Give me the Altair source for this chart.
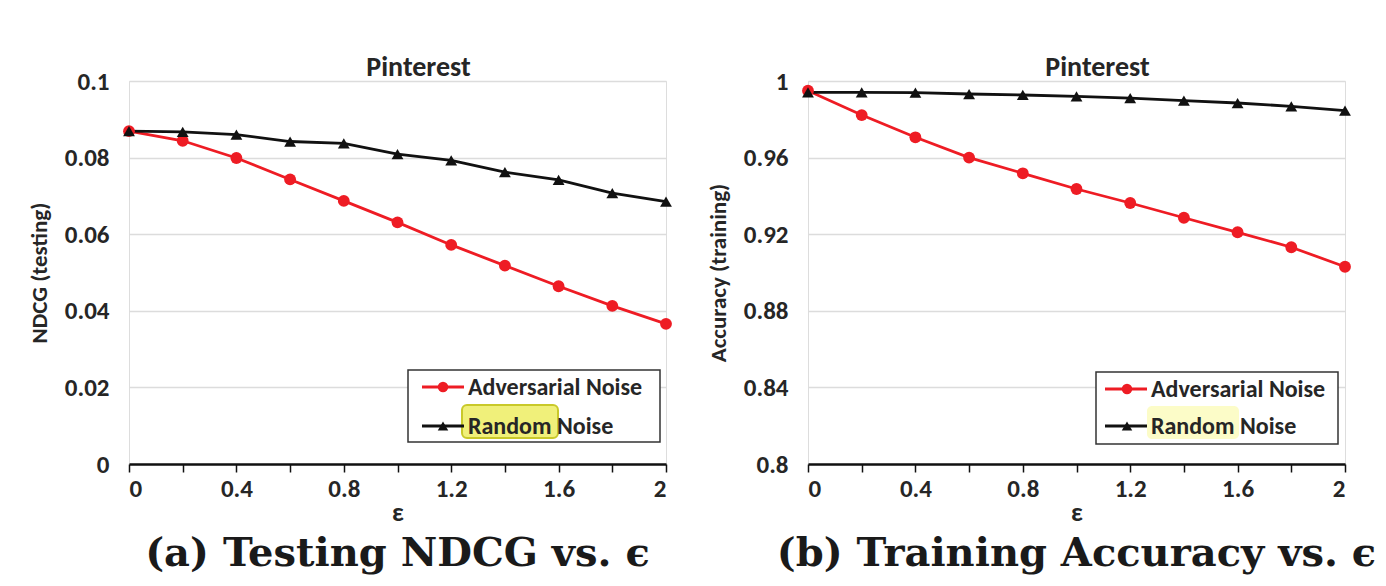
import altair as alt
import pandas as pd

# ---------------- data ----------------
eps = [0.0, 0.2, 0.4, 0.6, 0.8, 1.0, 1.2, 1.4, 1.6, 1.8, 2.0]
ndcg_adv = [0.0869, 0.0844, 0.0799, 0.0743, 0.0687, 0.0631, 0.0572, 0.0518, 0.0464, 0.0413, 0.0366]
ndcg_rand = [0.0869, 0.0867, 0.0860, 0.0842, 0.0837, 0.0809, 0.0793, 0.0762, 0.0742, 0.0707, 0.0685]
acc_adv = [0.9949, 0.9822, 0.9706, 0.9600, 0.9518, 0.9436, 0.9363, 0.9286, 0.9210, 0.9132, 0.9030]
acc_rand = [0.9941, 0.9941, 0.9939, 0.9932, 0.9927, 0.9920, 0.9911, 0.9897, 0.9885, 0.9868, 0.9845]
series = ["Adversarial Noise", "Random Noise"]
series_colors = ["#ee1c24", "#111111"]
series_shapes = ["circle", "triangle-up"]
ndcg_ticks = [0, 0.02, 0.04, 0.06, 0.08, 0.1]
acc_ticks = [0.8, 0.84, 0.88, 0.92, 0.96, 1.0]
panel_title = "Pinterest"
captions = ["(a) Testing NDCG vs. \u03f5", "(b) Training Accuracy vs. \u03f5"]
ytitles = ["NDCG (testing)", "Accuracy (training)"]

SANS = "Carlito, Lato, sans-serif"
SERIF = "DejaVu Serif, Liberation Serif, serif"
TXT = "#262626"
W, H = 537, 383


def one():
    return alt.Data(values=[{"k": 0}])


def panel(adv, rand, ydom, yticks, ytitle, caption, lg, hl_fill, hl_stroke):
    df = pd.DataFrame({
        "eps": eps + eps,
        "value": adv + rand,
        "series": [series[0]] * len(eps) + [series[1]] * len(eps),
    })
    x = alt.X("eps:Q", scale=alt.Scale(domain=[0, 2], nice=False),
              axis=alt.Axis(values=eps, format="~g",
                            labelExpr="round(datum.value*5) % 2 == 0 ? datum.label : ''",
                            title="\u03b5", grid=False, tickSize=8, tickWidth=1.5,
                            tickColor="#111", domainColor="#111", domainWidth=2.5,
                            labelFontSize=25, labelFont=SANS, labelFontWeight="bold",
                            labelColor=TXT, labelPadding=4,
                            titleFontSize=26, titleFont=SANS,
                            titleFontWeight="bold", titleColor=TXT, titlePadding=-2))
    y = alt.Y("value:Q", scale=alt.Scale(domain=ydom, nice=False, zero=False),
              axis=alt.Axis(values=yticks, format="~g", ticks=False, domain=False,
                            gridColor="#dcdcdc", gridWidth=1.5,
                            labelFontSize=25, labelFont=SANS, labelFontWeight="bold",
                            labelColor=TXT, labelPadding=20,
                            minExtent=66, maxExtent=66,
                            title=ytitle, titleFontSize=23,
                            titleFont=SANS, titleFontWeight="bold", titleColor=TXT,
                            titlePadding=12))
    color = alt.Color("series:N", scale=alt.Scale(domain=series, range=series_colors), legend=None)
    shape = alt.Shape("series:N", scale=alt.Scale(domain=series, range=series_shapes), legend=None)
    base = alt.Chart(df)
    lines = base.mark_line(strokeWidth=2.8).encode(x=x, y=y, color=color)
    pts = base.mark_point(filled=True, opacity=1, size=140).encode(x=x, y=y, color=color, shape=shape)

    head = alt.Chart(one()).mark_text(font=SANS, fontSize=28, fontWeight="bold", color=TXT,
                                      baseline="alphabetic").encode(
        x=alt.value(W / 2 + 21), y=alt.value(-5), text=alt.value(panel_title))

    bx0, bx1, by0, by1, lx0, lx1, sx, tx, y1, y2, hx0, hx1, hy0, hy1 = lg
    box = alt.Chart(one()).mark_rect(fill="white", stroke="#333", strokeWidth=1.5).encode(
        x=alt.value(bx0), x2=alt.value(bx1), y=alt.value(by0), y2=alt.value(by1))
    hl = alt.Chart(one()).mark_rect(fill=hl_fill, stroke=hl_stroke,
                                    strokeWidth=2 if hl_stroke != "transparent" else 0,
                                    cornerRadius=5).encode(
        x=alt.value(hx0), x2=alt.value(hx1), y=alt.value(hy0), y2=alt.value(hy1))
    layers = [lines, pts, head, box, hl]
    for i, ypos in enumerate([y1, y2]):
        layers.append(alt.Chart(one()).mark_rule(color=series_colors[i], strokeWidth=2.8).encode(
            x=alt.value(lx0), x2=alt.value(lx1), y=alt.value(ypos)))
        layers.append(alt.Chart(one()).mark_point(filled=True, opacity=1, size=110, color=series_colors[i],
                                                  shape=series_shapes[i]).encode(
            x=alt.value(sx), y=alt.value(ypos)))
        layers.append(alt.Chart(one()).mark_text(font=SANS, fontSize=24, fontWeight="bold", color=TXT,
                                                 align="left", baseline="middle").encode(
            x=alt.value(tx), y=alt.value(ypos + 1), text=alt.value(series[i])))
    return alt.layer(*layers).properties(
        width=W, height=H,
        title=alt.TitleParams(caption, orient="bottom", font=SERIF, fontSize=40,
                              fontWeight="bold", color="#1a1a1a", offset=9, anchor="middle"))


legend_a = (279, 531, 289, 361, 293, 335, 314, 339, 306, 345, 333, 429, 324, 357)
legend_b = (288, 530, 291, 363, 297, 339, 319, 343, 308, 345, 339, 431, 325, 358)

pa = panel(ndcg_adv, ndcg_rand, [0, 0.1], ndcg_ticks, ytitles[0], captions[0], legend_a, "#f0f07a", "#c9c92a")
pb = panel(acc_adv, acc_rand, [0.8, 1.0], acc_ticks, ytitles[1], captions[1], legend_b, "#fcfcc8", "transparent")

chart = alt.hconcat(pa, pb, spacing=33).properties(
    padding={"left": 19, "top": 45, "right": 0, "bottom": 2}
).configure_view(stroke="#3a3a3a", strokeWidth=1.5).configure(background="white")

chart.save("out.html", embed_options={"renderer": "svg", "actions": False})
